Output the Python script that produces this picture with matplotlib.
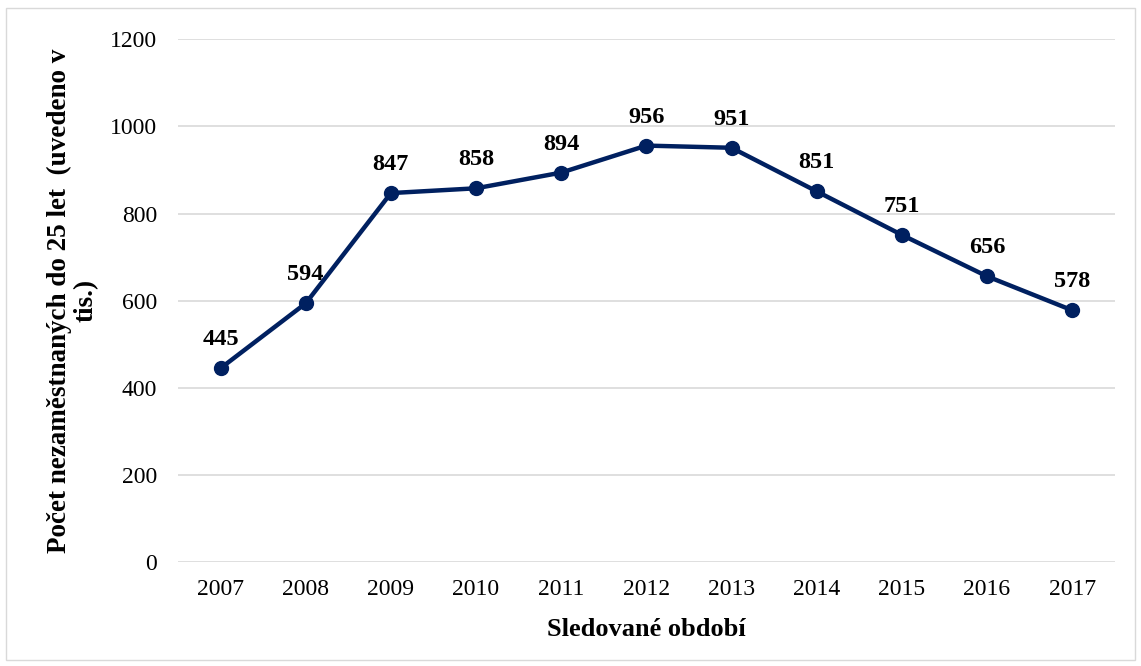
import matplotlib.pyplot as plt
from matplotlib.patches import Rectangle

YEARS = ['2007', '2008', '2009', '2010', '2011', '2012',
         '2013', '2014', '2015', '2016', '2017']
UNEMPLOYED = [445, 594, 847, 858, 894, 956, 951, 851, 751, 656, 578]
Y_TICKS = [0, 200, 400, 600, 800, 1000, 1200]

LINE_COLOR = '#002060'
GRID_COLOR = '#d9d9d9'

plt.rcParams['font.family'] = ['Liberation Serif', 'DejaVu Serif']

fig = plt.figure(figsize=(11.41, 6.66), dpi=100)
ax = fig.add_axes([0.156, 0.156, 0.821, 0.785])

x = list(range(len(YEARS)))
ax.plot(x, UNEMPLOYED, color=LINE_COLOR, linewidth=3.2,
        marker='o', markersize=10, zorder=3)

for xi, v in zip(x, UNEMPLOYED):
    ax.annotate(str(v), (xi, v), xytext=(0, 13), textcoords='offset points',
                ha='center', va='bottom', fontsize=17.5, fontweight='bold')

ax.set_xlim(-0.5, len(YEARS) - 0.5)
ax.set_ylim(0, 1200)
ax.set_xticks(x)
ax.set_xticklabels(YEARS)
ax.set_yticks(Y_TICKS)
ax.tick_params(axis='both', length=0, labelsize=17)
ax.tick_params(axis='x', pad=12)
ax.tick_params(axis='y', pad=15)
ax.grid(axis='y', color=GRID_COLOR, linewidth=1.2)
ax.set_axisbelow(True)
for s in ax.spines.values():
    s.set_visible(False)

ax.set_xlabel('Sledované období', fontsize=19, fontweight='bold', labelpad=13)
ax.set_ylabel('Počet nezaměstnaných do 25 let  (uvedeno v\ntis.)',
              fontsize=19.5, fontweight='bold', labelpad=8, linespacing=1.1)

fig.patches.append(Rectangle((6 / 1141, 6 / 666), 1129 / 1141, 652 / 666,
                             transform=fig.transFigure, fill=False,
                             edgecolor='#d9d9d9', linewidth=1))

fig.savefig('out.png', dpi=100)
